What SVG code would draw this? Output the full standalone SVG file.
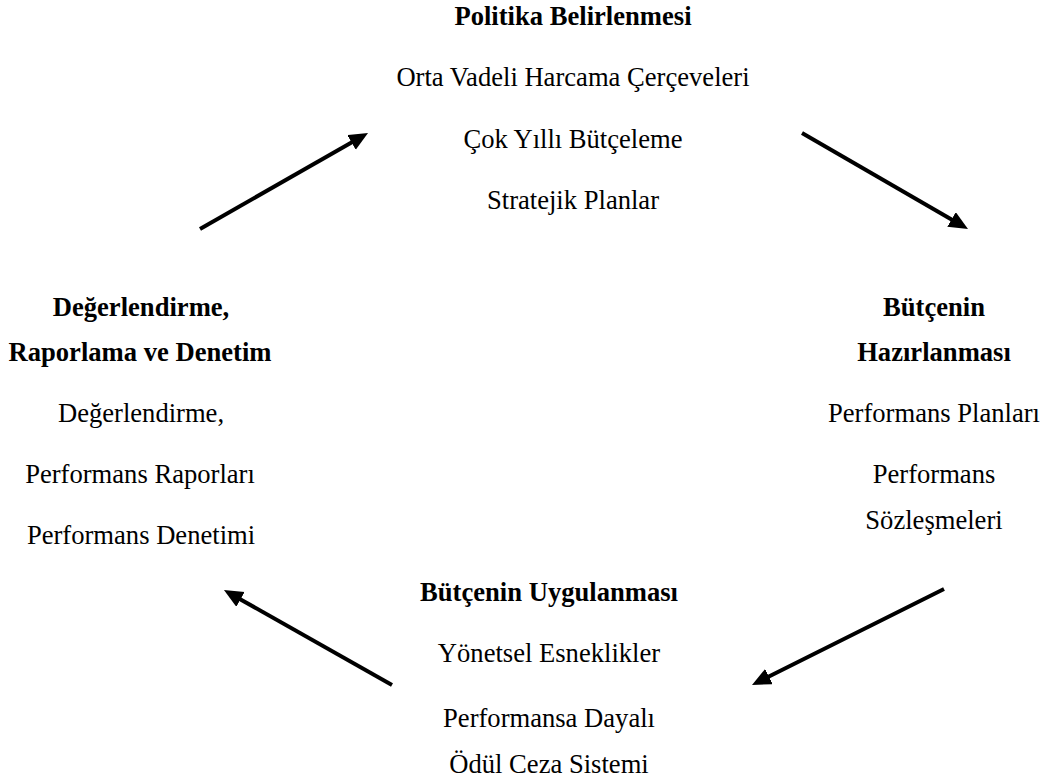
<svg xmlns="http://www.w3.org/2000/svg" width="1043" height="781" viewBox="0 0 1043 781">
  <style>
    text { font-family: "Liberation Serif", "Times New Roman", serif; font-size: 26.6px; fill: #000; text-anchor: middle; }
    .title { font-weight: bold; }
    .conn { stroke: #000; stroke-width: 4; fill: none; marker-end: url(#head); }
  </style>
  <defs>
    <marker id="head" markerUnits="userSpaceOnUse" markerWidth="21" markerHeight="19" refX="4" refY="8.5" orient="auto">
      <path d="M0,0 L19,8.5 L0,17 z" fill="#000"/>
    </marker>
  </defs>
  <rect width="1043" height="781" fill="#fff"/>

  <!-- Policy setting -->
  <g id="politika">
    <text class="title" x="573" y="25">Politika Belirlenmesi</text>
    <text x="573" y="86">Orta Vadeli Harcama Çerçeveleri</text>
    <text x="573" y="148">Çok Yıllı Bütçeleme</text>
    <text x="573" y="209">Stratejik Planlar</text>
  </g>

  <!-- Budget preparation -->
  <g id="hazirlama">
    <text class="title" x="934" y="316">Bütçenin</text>
    <text class="title" x="934" y="361">Hazırlanması</text>
    <text x="934" y="422">Performans Planları</text>
    <text x="934" y="483">Performans</text>
    <text x="934" y="529">Sözleşmeleri</text>
  </g>

  <!-- Budget execution -->
  <g id="uygulama">
    <text class="title" x="549" y="601">Bütçenin Uygulanması</text>
    <text x="549" y="662">Yönetsel Esneklikler</text>
    <text x="549" y="727">Performansa Dayalı</text>
    <text x="549" y="773">Ödül Ceza Sistemi</text>
  </g>

  <!-- Evaluation, reporting and audit -->
  <g id="degerlendirme">
    <text class="title" x="141" y="316">Değerlendirme,</text>
    <text class="title" x="140" y="361">Raporlama ve Denetim</text>
    <text x="141" y="422">Değerlendirme,</text>
    <text x="140" y="483">Performans Raporları</text>
    <text x="141" y="544">Performans Denetimi</text>
  </g>

  <!-- Cycle arrows -->
  <g id="connectors">
    <line class="conn" x1="200" y1="229" x2="355" y2="140.4"/>
    <line class="conn" x1="802" y1="133" x2="955" y2="221.5"/>
    <line class="conn" x1="944" y1="589" x2="765.4" y2="678.3"/>
    <line class="conn" x1="392" y1="685" x2="237" y2="597.4"/>
  </g>
</svg>
